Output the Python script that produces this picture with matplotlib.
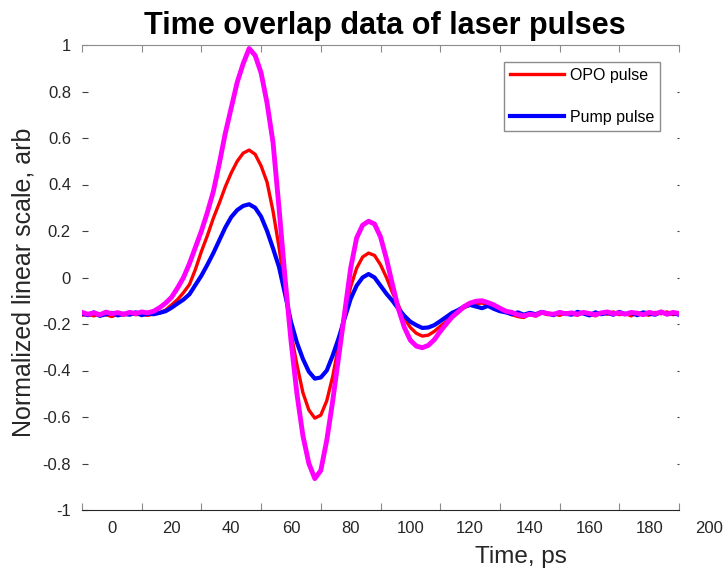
import numpy as np
from matplotlib import pyplot as plt
from matplotlib import transforms

plt.rcParams['font.family'] = ['Liberation Sans', 'DejaVu Sans']

# time axis, ps (2 ps steps)
time_ps = np.arange(-10, 191, 2)

opo_pulse = [
    -0.162, -0.158, -0.165, -0.156, -0.160, -0.168, -0.157, -0.162, -0.155, -0.160,
    -0.158, -0.163, -0.156, -0.152, -0.140, -0.118, -0.095, -0.065, -0.030, 0.035,
    0.112, 0.180, 0.255, 0.320, 0.390, 0.450, 0.500, 0.535, 0.548, 0.530,
    0.480, 0.410, 0.285, 0.130, -0.045, -0.240, -0.375, -0.495, -0.570, -0.605,
    -0.592, -0.530, -0.425, -0.290, -0.150, -0.040, 0.040, 0.088, 0.105, 0.095,
    0.055, 0.000, -0.065, -0.120, -0.175, -0.215, -0.240, -0.252, -0.248, -0.232,
    -0.210, -0.190, -0.165, -0.148, -0.130, -0.118, -0.112, -0.110, -0.115, -0.125,
    -0.135, -0.148, -0.160, -0.168, -0.172, -0.158, -0.166, -0.152, -0.160, -0.155,
    -0.163, -0.152, -0.158, -0.162, -0.150, -0.157, -0.165, -0.152, -0.158, -0.148,
    -0.160, -0.155, -0.165, -0.150, -0.158, -0.162, -0.150, -0.156, -0.148, -0.160,
    -0.152,
]

pump_pulse = [
    -0.155, -0.162, -0.150, -0.165, -0.158, -0.152, -0.163, -0.156, -0.160, -0.150,
    -0.162, -0.155, -0.158, -0.152, -0.145, -0.130, -0.112, -0.095, -0.072, -0.032,
    0.008, 0.055, 0.105, 0.160, 0.215, 0.260, 0.290, 0.308, 0.315, 0.300,
    0.262, 0.200, 0.125, 0.045, -0.070, -0.190, -0.280, -0.350, -0.405, -0.435,
    -0.430, -0.400, -0.335, -0.260, -0.175, -0.092, -0.035, 0.000, 0.015, 0.000,
    -0.035, -0.070, -0.100, -0.135, -0.165, -0.190, -0.205, -0.217, -0.215, -0.205,
    -0.188, -0.170, -0.152, -0.140, -0.125, -0.118, -0.125, -0.132, -0.122, -0.135,
    -0.145, -0.150, -0.158, -0.150, -0.160, -0.152, -0.158, -0.148, -0.155, -0.162,
    -0.150, -0.156, -0.160, -0.148, -0.155, -0.163, -0.150, -0.158, -0.152, -0.160,
    -0.148, -0.157, -0.152, -0.162, -0.150, -0.155, -0.160, -0.148, -0.158, -0.153,
    -0.160,
]

third_pulse = [
    -0.150, -0.158, -0.152, -0.160, -0.149, -0.156, -0.151, -0.158, -0.150, -0.155,
    -0.148, -0.152, -0.145, -0.130, -0.110, -0.085, -0.045, 0.000, 0.060, 0.130,
    0.200, 0.280, 0.370, 0.490, 0.620, 0.730, 0.840, 0.920, 0.985, 0.955,
    0.880, 0.750, 0.580, 0.300, 0.000, -0.270, -0.500, -0.680, -0.800, -0.865,
    -0.830, -0.700, -0.530, -0.340, -0.150, 0.040, 0.170, 0.225, 0.242, 0.230,
    0.175, 0.080, -0.030, -0.135, -0.215, -0.270, -0.295, -0.302, -0.292, -0.268,
    -0.232, -0.200, -0.170, -0.148, -0.125, -0.110, -0.102, -0.100, -0.108, -0.118,
    -0.132, -0.145, -0.150, -0.160, -0.165, -0.158, -0.162, -0.150, -0.155, -0.158,
    -0.150, -0.156, -0.152, -0.158, -0.150, -0.155, -0.160, -0.152, -0.148, -0.156,
    -0.152, -0.158, -0.150, -0.154, -0.160, -0.150, -0.156, -0.148, -0.158, -0.150,
    -0.155,
]

xtick_marks = np.arange(-10, 191, 20)
xtick_labels = np.arange(0, 201, 20)
ytick_vals = np.round(np.arange(-1, 1.01, 0.2), 1)

fig = plt.figure(figsize=(7.23, 5.73), dpi=100)
ax = fig.add_axes([82/723, 1 - 510/573, 597/723, 465/573])

ax.plot(time_ps, opo_pulse, color='#ff0000', linewidth=2.4, label='OPO pulse')
ax.plot(time_ps, pump_pulse, color='#0000ff', linewidth=3.0, label='Pump pulse')
ax.plot(time_ps, third_pulse, color='#ff00ff', linewidth=3.5)

ax.set_xlim(-10, 190)
ax.set_ylim(-1, 1)

ax.set_xticks(xtick_marks)
ax.set_xticklabels([])
ax.set_yticks(ytick_vals)
ax.set_yticklabels(['%g' % v if v != 0 else '0' for v in ytick_vals])

ax.spines['left'].set_visible(False)
ax.spines['right'].set_visible(False)
ax.spines['top'].set_color('#8c8c8c')
ax.spines['bottom'].set_color('#262626')

ax.tick_params(axis='x', direction='in', bottom=True, top=True, length=0, labelbottom=False)
ax.tick_params(axis='x', which='major', top=True, length=5, color='#8c8c8c')
ax.tick_params(axis='y', direction='in', left=True, right=True, length=4,
               color='#404040', labelsize=12, labelcolor='#262626', pad=8)
for t in ax.yaxis.get_major_ticks():
    t.tick2line.set_color('#b0b0b0')
    t.tick2line.set_markersize(1.5)

trans = transforms.blended_transform_factory(ax.transData, ax.transAxes)
for v in xtick_labels:
    ax.text(v, -0.04, str(v), transform=trans, ha='center', va='center',
            fontsize=12, color='#262626', clip_on=False)

fig.text(521/723, 1 - 563/573, 'Time, ps', ha='center', va='baseline',
         fontsize=17.5, color='#262626')
ax.set_ylabel('Normalized linear scale, arb', fontsize=18, color='#262626')
ax.yaxis.set_label_coords(-0.078, 0.49)

fig.text(385/723, 1 - 34/573, 'Time overlap data of laser pulses', ha='center', va='baseline',
         fontsize=22, fontweight='bold')

leg = ax.legend(loc='upper right', bbox_to_anchor=(0.968, 0.963), borderaxespad=0,
                fontsize=11.5, handlelength=3.4, handletextpad=0.35, labelspacing=1.7,
                borderpad=0.35, fancybox=False, framealpha=1, edgecolor='#8c8c8c')
leg.get_frame().set_linewidth(1.0)

fig.savefig('out.png', dpi=100)
